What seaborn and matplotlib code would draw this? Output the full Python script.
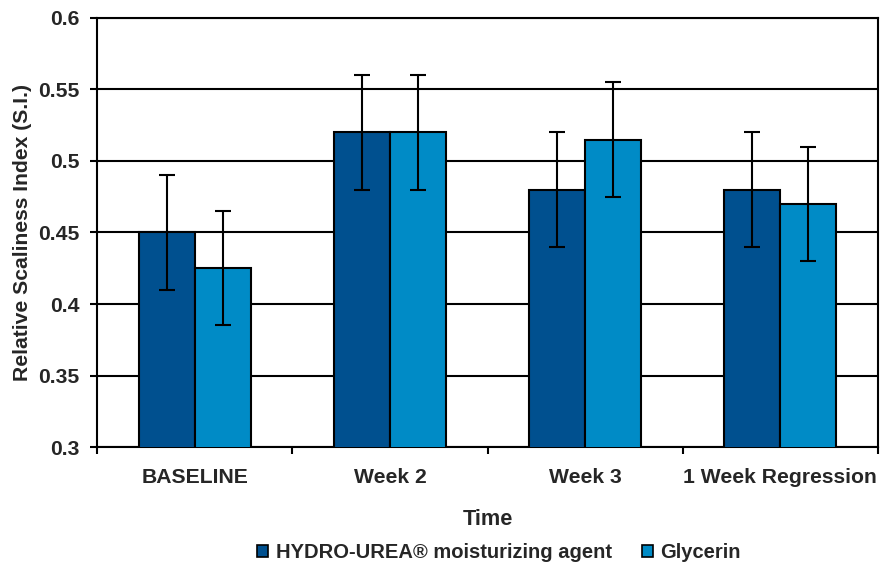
import matplotlib
matplotlib.use("Agg")
import matplotlib.pyplot as plt
import matplotlib.patches as mpatches
import numpy as np
import pandas as pd
import seaborn as sns

# data
categories = ["BASELINE", "Week 2", "Week 3", "1 Week Regression"]
series_names = ["HYDRO-UREA\u00ae moisturizing agent", "Glycerin"]
hydro_urea = [0.45, 0.52, 0.48, 0.48]
glycerin = [0.425, 0.52, 0.515, 0.47]
hydro_urea_err = [0.04, 0.04, 0.04, 0.04]
glycerin_err = [0.04, 0.04, 0.04, 0.04]
y_ticks = [0.3, 0.35, 0.4, 0.45, 0.5, 0.55, 0.6]
y_tick_labels = ["0.3", "0.35", "0.4", "0.45", "0.5", "0.55", "0.6"]

colors = ["#00508F", "#008BC6"]
FS = 15.2

sns.set_theme(style="white")
plt.rcParams["font.family"] = ["Liberation Sans", "DejaVu Sans"]
plt.rcParams["font.weight"] = "bold"

df = pd.DataFrame({
    "Time": categories * 2,
    "value": hydro_urea + glycerin,
    "err": hydro_urea_err + glycerin_err,
    "series": [series_names[0]] * 4 + [series_names[1]] * 4,
})

fig = plt.figure(figsize=(8.83, 5.67), dpi=100)
ax = fig.add_axes([0.1104, 0.2116, 0.8834, 0.7567])

sns.barplot(data=df, x="Time", y="value", hue="series", order=categories,
            hue_order=series_names, palette=colors, saturation=1,
            width=0.574, gap=0, errorbar=None, edgecolor="black",
            linewidth=1.5, legend=False, zorder=3, ax=ax)

# error bars drawn at the bar centres
n = len(categories)
for i, name in enumerate(series_names):
    sub = df[df["series"] == name].set_index("Time").loc[categories]
    bars = ax.patches[i * n:(i + 1) * n]
    xs = [b.get_x() + b.get_width() / 2 for b in bars]
    ax.errorbar(xs, sub["value"], yerr=sub["err"], fmt="none",
                ecolor="black", elinewidth=1.5, capsize=6, capthick=1.5,
                zorder=4)

ax.set_xlim(-0.5, n - 0.5)
ax.set_ylim(0.3, 0.6)
ax.set_yticks(y_ticks)
ax.set_yticklabels(y_tick_labels, fontsize=FS, fontweight="bold")
ax.set_xticks(range(n))
ax.set_xticklabels(categories, fontsize=FS, fontweight="bold")
ax.set_xticks(np.arange(-0.5, n, 1), minor=True)
ax.tick_params(axis="x", which="major", length=0, pad=15)
ax.tick_params(axis="x", which="minor", length=5, width=1.5, color="black",
               direction="out", bottom=True)
ax.tick_params(axis="y", length=5, width=1.5, color="black", direction="out",
               left=True, pad=8)

ax.yaxis.grid(True, color="black", linewidth=1.5, zorder=0)
ax.set_axisbelow(True)
for side in ["left", "right", "bottom", "top"]:
    ax.spines[side].set_visible(True)
    ax.spines[side].set_color("black")
    ax.spines[side].set_linewidth(1.5)

ax.set_xlabel("Time", fontsize=FS + 0.5, fontweight="bold", labelpad=16)
ax.set_ylabel("Relative Scaliness Index (S.I.)", fontsize=FS,
              fontweight="bold", labelpad=4)

handles = [mpatches.Patch(facecolor=c, edgecolor="black", linewidth=1.2)
           for c in colors]
fig.legend(handles, series_names, loc="center", bbox_to_anchor=(0.565, 0.026),
           ncol=2, frameon=False, prop={"size": 14.5, "weight": "bold"},
           handlelength=0.55, handleheight=0.55, handletextpad=0.35,
           columnspacing=1.5)

fig.savefig("out.png", dpi=100)
